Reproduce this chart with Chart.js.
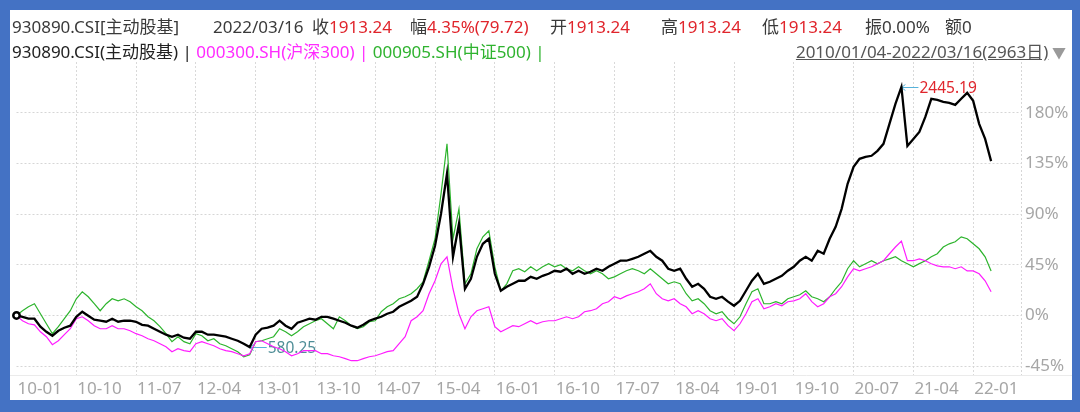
<!DOCTYPE html>
<html>
<head>
<meta charset="utf-8">
<script src="https://cdn.jsdelivr.net/npm/chart.js@4.4.1/dist/chart.umd.min.js"></script>
<style>
  html, body { margin:0; padding:0; }
  body { width:1080px; height:412px; background:#4472c4; position:relative; overflow:hidden;
         font-family:"Noto Sans","Noto Sans CJK SC",sans-serif; }
  #panel { position:absolute; left:10px; top:10px; width:1062px; height:390px; background:#fff; overflow:hidden; }
  #chart { position:absolute; left:0; top:0; }
  .t { position:absolute; font-size:17px; line-height:20px; white-space:pre; color:#3a3a3a; }
  .red { color:#e0252c; }
  .l1 { top:7px; }
  .l2 { top:32px; }
</style>
</head>
<body>
<div id="panel">
  <canvas id="chart" width="1062" height="390"></canvas>
  <div class="t l1" style="left:2px">930890.CSI[主动股基]</div>
  <div class="t l1" style="left:203px">2022/03/16</div>
  <div class="t l1" style="left:302px">收<span class="red">1913.24</span></div>
  <div class="t l1" style="left:400px">幅<span class="red">4.35%(79.72)</span></div>
  <div class="t l1" style="left:540px">开<span class="red">1913.24</span></div>
  <div class="t l1" style="left:651px">高<span class="red">1913.24</span></div>
  <div class="t l1" style="left:752px">低<span class="red">1913.24</span></div>
  <div class="t l1" style="left:855px">振0.00%</div>
  <div class="t l1" style="left:935px">额0</div>
  <div class="t l2" style="left:2px"><span style="color:#222">930890.CSI(主动股基) | </span><span style="color:#ff2bff">000300.SH(沪深300) | </span><span style="color:#2fb32f">000905.SH(中证500) |</span></div>
  <div class="t l2" style="right:6px"><span style="text-decoration:underline;color:#555">2010/01/04-2022/03/16(2963日)</span><span style="color:#9a9a9a;font-size:14px"> ▼</span></div>
</div>
<script>
const seriesNames = ['930890.CSI(主动股基)', '000300.SH(沪深300)', '000905.SH(中证500)'];
const xTickLabels = ['10-01','10-10','11-07','12-04','13-01','13-10','14-07','15-04','16-01','16-10','17-07','18-04','19-01','19-10','20-07','21-04','22-01'];
const yTickValues = [-45, 0, 45, 90, 135, 180];
const peakValue = 2445.19;
const troughValue = 580.25;

// % change since 2010/01/04, sampled along the time axis
const activeFund = [0,-1.2,-2.9,-2.9,-10.0,-14.5,-18.0,-13.6,-10.9,-9.1,
-1.2,3.3,-0.3,-3.8,-4.7,-5.6,-2.9,-5.6,-4.7,-4.7,
-5.6,-8.3,-9.1,-11.8,-14.5,-17.1,-18.9,-17.1,-19.8,-20.7,
-14.5,-14.5,-17.1,-17.1,-18.0,-18.9,-20.7,-22.5,-25.1,-28.1,
-17.1,-11.8,-10.9,-9.1,-4.7,-9.1,-11.8,-6.5,-4.7,-2.9,
-3.8,-1.2,-1.2,-2.9,-4.7,-6.5,-9.1,-10.9,-8.3,-4.7,
-2.9,-1.2,1.5,3.3,7.7,10.4,13.0,16.6,28.1,43.2,
61.9,90.3,126.0,52.1,81.4,23.7,32.6,52.1,63.6,68.1,
37.0,21.9,25.5,28.1,30.8,30.8,34.3,32.6,35.2,37.0,
39.7,38.8,41.5,37.0,39.7,37.0,38.8,41.5,39.7,43.2,
45.9,48.6,48.6,50.3,52.1,54.8,57.4,52.1,48.6,41.5,
39.7,41.5,32.6,25.5,28.1,23.7,16.6,14.8,16.6,12.2,
8.6,13.0,21.9,30.8,37.0,28.1,29.9,32.6,35.2,39.7,
43.2,48.6,52.1,48.6,57.4,54.8,68.1,78.7,94.7,116.9,
132.0,139.1,140.9,141.8,146.2,152.4,170.2,187.9,203.0,150.6,
156.8,163.0,176.3,192.4,191.5,189.7,188.8,187.0,192.4,197.7,
190.6,170.2,156.8,137.1];

const csi300 = [0,-4.7,-7.4,-8.3,-14.5,-18.9,-26.0,-22.5,-17.1,-11.8,
-2.9,-1.2,-4.7,-9.1,-11.8,-11.8,-9.1,-11.8,-11.8,-13.6,
-16.2,-18.0,-20.7,-22.5,-25.1,-27.8,-32.2,-29.6,-31.3,-32.2,
-25.1,-23.3,-25.1,-26.9,-29.6,-31.3,-32.2,-34.0,-35.8,-34.0,
-23.3,-22.5,-25.1,-27.8,-29.6,-32.2,-35.8,-34.0,-31.3,-31.3,
-31.3,-34.0,-34.0,-35.8,-36.7,-38.4,-40.2,-40.2,-38.4,-36.7,
-35.8,-34.0,-32.2,-31.3,-25.1,-18.9,-4.7,-1.2,4.2,19.3,
30.8,45.9,52.1,23.7,1.5,-11.8,-1.2,4.2,5.9,7.7,
-10.0,-14.5,-11.8,-9.1,-10.0,-7.4,-4.7,-7.4,-5.6,-4.7,
-4.7,-2.9,-1.2,-2.9,-1.2,3.3,4.2,5.9,10.4,12.2,
16.6,14.8,17.4,19.3,21.0,23.7,28.1,19.3,14.8,13.0,
14.8,10.4,7.7,1.5,4.2,1.5,-2.9,-4.7,-2.9,-9.1,
-13.6,-7.4,1.5,12.2,14.8,5.9,7.7,10.4,8.6,12.2,
13.0,14.8,19.3,12.2,7.7,10.4,16.6,19.3,25.5,34.3,
41.5,39.7,41.5,43.2,45.9,48.6,54.8,60.8,66.1,48.6,
48.6,50.3,48.6,45.9,44.0,43.2,43.2,41.5,43.2,39.5,
39.5,37.0,30.8,21.0];

const csi500 = [0,4.2,7.7,10.4,1.5,-7.4,-16.2,-10.0,-2.9,4.2,
14.8,21.0,16.6,10.4,4.2,10.4,14.8,13.0,14.8,12.2,
7.7,4.2,-1.2,-4.7,-10.0,-16.2,-23.3,-18.9,-23.3,-25.1,
-16.2,-18.0,-22.5,-20.7,-25.1,-26.9,-29.6,-32.2,-36.7,-34.9,
-23.3,-22.5,-20.7,-18.9,-11.8,-14.5,-18.0,-14.5,-10.0,-7.4,
-4.7,-2.9,-7.4,-11.8,-1.2,-4.7,-9.1,-11.8,-10.0,-5.6,
-4.7,3.3,7.7,10.4,14.8,16.6,19.3,23.7,29.9,48.6,
68.1,108.0,152.4,68.1,94.7,28.1,37.0,59.2,69.8,75.2,
43.2,21.9,28.1,39.7,41.5,38.8,43.2,39.7,43.2,45.9,
43.2,45.0,41.5,39.7,43.2,39.7,37.0,39.7,37.0,32.6,
34.3,37.0,39.7,41.5,39.7,37.0,41.5,37.0,32.6,28.1,
29.9,28.1,19.3,13.0,14.8,10.4,4.2,1.5,3.3,-2.9,
-7.4,-1.2,10.4,21.0,23.7,10.4,10.4,12.2,10.4,14.8,
16.6,18.4,21.9,16.6,14.8,12.2,16.6,23.7,29.9,41.5,
48.6,43.2,45.9,48.6,45.9,48.6,50.3,52.1,48.6,45.9,
43.2,46.0,48.6,52.1,54.8,60.8,63.6,65.4,69.8,68.1,
63.6,59.2,52.1,39.5];

const SLOTS = 169, STEP = 10;
const labels = [];
for (let i = 0; i < SLOTS; i++) labels.push(i % STEP === 0 && xTickLabels[i / STEP] ? xTickLabels[i / STEP] : '');

const FONT = '"Noto Sans","Noto Sans CJK SC",sans-serif';

const extras = {
  id: 'extras',
  beforeDatasetsDraw(chart) {
    const { ctx, chartArea: a } = chart;
    ctx.save();
    ctx.lineWidth = 1;
    ctx.strokeStyle = '#d6d6d6';
    ctx.setLineDash([2, 2]);
    const rx = Math.round(a.right) + 0.5;
    ctx.beginPath(); ctx.moveTo(rx, a.top); ctx.lineTo(rx, a.bottom); ctx.stroke();
    ctx.setLineDash([]);
    ctx.strokeStyle = '#ebebeb';
    const by = Math.round(a.bottom) + 0.5;
    ctx.beginPath(); ctx.moveTo(0, by); ctx.lineTo(chart.width, by); ctx.stroke();

    const meta = chart.getDatasetMeta(0), d = chart.data.datasets[0].data;
    let hi = 0, lo = 0;
    d.forEach((v, i) => { if (v > d[hi]) hi = i; if (v < d[lo]) lo = i; });
    const mark = (i, text, color) => {
      const p = meta.data[i];
      const y = Math.round(p.y) + 0.5;
      ctx.strokeStyle = '#56b2da'; ctx.lineWidth = 1;
      ctx.beginPath();
      ctx.moveTo(p.x + 4, y - 3); ctx.lineTo(p.x, y); ctx.lineTo(p.x + 4, y + 3);
      ctx.moveTo(p.x, y); ctx.lineTo(p.x + 17, y);
      ctx.stroke();
      ctx.font = '15.5px ' + FONT;
      ctx.fillStyle = color; ctx.textBaseline = 'middle'; ctx.textAlign = 'left';
      ctx.fillText(text, p.x + 18, y + 1);
    };
    mark(hi, peakValue.toFixed(2), '#e0252c');
    mark(lo, troughValue.toFixed(2), '#4f8e97');
    ctx.restore();
  }
};

new Chart(document.getElementById('chart'), {
  type: 'line',
  data: {
    labels,
    datasets: [
      { label: seriesNames[0], data: activeFund, borderColor: '#000', borderWidth: 2.3,
        pointRadius: c => c.dataIndex === 0 ? 3.2 : 0, pointBorderWidth: 2.5,
        pointBackgroundColor: '#fff', pointBorderColor: '#000', clip: false, tension: 0 },
      { label: seriesNames[1], data: csi300, borderColor: '#ff1cff', borderWidth: 1.2, pointRadius: 0, tension: 0 },
      { label: seriesNames[2], data: csi500, borderColor: '#2db42d', borderWidth: 1.2, pointRadius: 0, tension: 0 }
    ]
  },
  options: {
    responsive: false, animation: false, devicePixelRatio: 1,
    layout: { padding: { top: 52, left: 2, right: 0, bottom: 0 } },
    plugins: { legend: { display: false }, tooltip: { enabled: false } },
    scales: {
      x: {
        type: 'category', offset: false,
        afterBuildTicks: s => { s.ticks = s.ticks.filter(t => labels[t.value] !== ''); },
        afterFit: s => { s.height = 25; },
        grid: { color: c => c.index === 0 ? 'rgba(0,0,0,0)' : '#d9d9d9', lineWidth: 1, drawTicks: false },
        border: { display: false, dash: [2, 2] },
        ticks: { autoSkip: false, maxRotation: 0, minRotation: 0, align: 'start', labelOffset: 1, padding: 4,
                 color: '#a6a6a6', font: { family: FONT, size: 17 } }
      },
      y: {
        type: 'linear', position: 'right', min: -52.9, max: 225.1,
        afterBuildTicks: s => { s.ticks = yTickValues.map(v => ({ value: v })); },
        afterFit: s => { s.width = 51; },
        grid: { color: '#d6d6d6', lineWidth: 1, drawTicks: false },
        border: { display: false, dash: [2, 2] },
        ticks: { padding: 4, color: '#a6a6a6', font: { family: FONT, size: 17 }, callback: v => v + '%' }
      }
    }
  },
  plugins: [extras]
});
</script>
</body>
</html>
